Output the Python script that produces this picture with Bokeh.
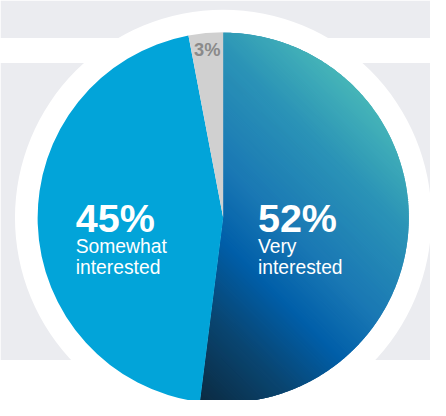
import numpy as np
from bokeh.plotting import figure
from bokeh.models import Range1d, BoxAnnotation
from bokeh.core.properties import value
from bokeh.embed import file_html
from bokeh.resources import INLINE

# ---- data ----
categories = ["Very interested", "Somewhat interested", "Not interested"]
shares = [52, 45, 3]
pct_labels = ["52%", "45%", "3%"]
sub_labels = [["Very", "interested"], ["Somewhat", "interested"], []]

# ---- styles ----
slice_colors = [None, "#02a4d9", "#d0d0d0"]
grad_t = [-210, -110, -20, 60, 180, 277]
grad_c = ["#0c2b42", "#0a4570", "#015fa9", "#1a78b4", "#2b93b7", "#46b5b8"]
BG_GREY = "#ebecf0"

# data space = reference pixel space (446 x 416), drawn in a 430 x 400 plot
RW, RH = 446, 416
W, H = 430, 400
K = W / RW  # font scale
CX, CY = 231, RH - 226
R = 192.5
R_RING = 216

p = figure(width=W, height=H, x_range=Range1d(0, RW), y_range=Range1d(0, RH),
           output_backend="svg", toolbar_location=None, min_border=0)
p.axis.visible = False
p.grid.visible = False
p.outline_line_color = None
p.background_fill_color = "white"
p.border_fill_color = "white"

p.add_layout(BoxAnnotation(bottom=RH - 39, top=RH, fill_color=BG_GREY, fill_alpha=1, line_color=None, level="underlay"))
p.add_layout(BoxAnnotation(bottom=RH - 374, top=RH - 65, fill_color=BG_GREY, fill_alpha=1, line_color=None, level="underlay"))

# white ring
p.circle(x=[CX], y=[CY], radius=R_RING, fill_color="white", line_color=None)


def hex2rgb(h):
    h = h.lstrip("#")
    return np.array([int(h[i:i + 2], 16) for i in (0, 2, 4)], dtype=float)


grad_rgb = np.array([hex2rgb(c) for c in grad_c])


def grad_color(t):
    r = np.interp(t, grad_t, grad_rgb[:, 0])
    g = np.interp(t, grad_t, grad_rgb[:, 1])
    b = np.interp(t, grad_t, grad_rgb[:, 2])
    return "#%02x%02x%02x" % (int(round(r)), int(round(g)), int(round(b)))


def clip(poly, a, b, c):
    # keep a*x + b*y >= c
    out = []
    n = len(poly)
    for i in range(n):
        P = poly[i]
        Q = poly[(i + 1) % n]
        fp = a * P[0] + b * P[1] - c
        fq = a * Q[0] + b * Q[1] - c
        if fp >= 0:
            out.append(P)
        if (fp >= 0) != (fq >= 0):
            s = fp / (fp - fq)
            out.append((P[0] + s * (Q[0] - P[0]), P[1] + s * (Q[1] - P[1])))
    return out


start = np.pi / 2
for i, share in enumerate(shares):
    end = start - share / 100 * 2 * np.pi
    mid = (start + end) / 2
    if slice_colors[i] is not None:
        p.wedge(x=[CX], y=[CY], radius=R, start_angle=end, end_angle=start,
                fill_color=slice_colors[i], line_color=None)
    else:
        # base wedge under the gradient strips (hides seams)
        p.wedge(x=[CX], y=[CY], radius=R - 0.6, start_angle=end, end_angle=start,
                fill_color=grad_color(40), line_color=None)
        angs = np.linspace(end, start, 240)
        poly = [(CX, CY)] + [(CX + R * np.cos(a), CY + R * np.sin(a)) for a in angs]
        gx = [q[0] + q[1] - RH for q in poly]
        tmin, tmax = min(gx), max(gx)
        dt = 2.0
        xs, ys, cols = [], [], []
        t = tmin
        while t < tmax:
            piece = clip(poly, 1, 1, t + RH)
            piece = clip(piece, -1, -1, -(t + dt + 2.0 + RH))
            if len(piece) >= 3:
                xs.append([q[0] for q in piece])
                ys.append([q[1] for q in piece])
                cols.append(grad_color(t + dt / 2))
            t += dt
        p.patches(xs=xs, ys=ys, fill_color=cols, line_color=None)
    if share < 10:
        rr = 176
        p.text(x=[CX + rr * np.cos(mid)], y=[CY + rr * np.sin(mid)], text=[pct_labels[i]],
               text_font=value("Liberation Sans"), text_font_size=value("%.1fpx" % (19 * K)),
               text_font_style="bold", text_color="#8a8a8a",
               text_align="center", text_baseline="middle")
    start = end

# big labels
big_x = [267, 78]
for i in range(2):
    p.text(x=[big_x[i]], y=[RH - 226], text=[pct_labels[i]],
           text_font=value("Liberation Sans"), text_font_size=value("%.1fpx" % (41 * K)),
           text_font_style="bold", text_color="white",
           text_align="left", text_baseline="alphabetic")
    for j, s in enumerate(sub_labels[i]):
        p.text(x=[big_x[i]], y=[RH - 256 - 21.5 * j], text=[s],
               text_font=value("Liberation Sans"), text_font_size=value("%.1fpx" % (20 * K)),
               text_color="white", text_align="left", text_baseline="alphabetic")

open("out.html", "w").write(file_html(p, INLINE))
